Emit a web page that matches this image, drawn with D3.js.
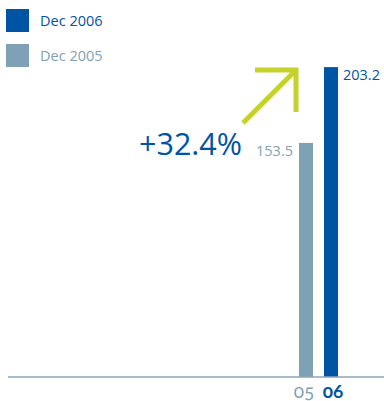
<!DOCTYPE html>
<html>
<head>
<meta charset="utf-8">
<script src="https://cdn.jsdelivr.net/npm/d3@7"></script>
<style>
  body { margin: 0; background: #fff; }
  svg text { font-family: "Open Sans", "Noto Sans", sans-serif; }
</style>
</head>
<body>
<div id="chart"></div>
<script>
var categories = ["05", "06"];
var values = [153.5, 203.2];
var seriesNames = ["Dec 2005", "Dec 2006"];
var changeLabel = "+32.4%";

var width = 384;
var height = 401;
var dark = "#0054a4";
var light = "#7fa1b6";
var green = "#c4d22a";
var colors = [light, dark];

var svg = d3.select("#chart")
  .append("svg")
  .attr("width", width)
  .attr("height", height);

var x = d3.scaleBand()
  .domain(categories)
  .range([299, 338])
  .paddingInner(0.44)
  .paddingOuter(0);

var y = d3.scaleLinear()
  .domain([0, 250])
  .range([377, -4.25]);

// legend (newest on top)
var legend = svg.append("g");
var legendItems = legend.selectAll("g")
  .data([1, 0])
  .enter()
  .append("g")
  .attr("transform", function(d, i) { return "translate(6," + (9 + i * 35) + ")"; });
legendItems.append("rect")
  .attr("width", 23)
  .attr("height", 23)
  .attr("fill", function(d) { return colors[d]; });
legendItems.append("text")
  .attr("x", 34)
  .attr("y", 17)
  .attr("font-size", 14.5)
  .attr("fill", function(d) { return colors[d]; })
  .text(function(d) { return seriesNames[d]; });

// bars
svg.selectAll(".bar")
  .data(values)
  .enter()
  .append("rect")
  .attr("class", "bar")
  .attr("x", function(d, i) { return x(categories[i]); })
  .attr("y", function(d) { return y(d); })
  .attr("width", x.bandwidth())
  .attr("height", function(d) { return y(0) - y(d); })
  .attr("fill", function(d, i) { return colors[i]; });

// value labels
svg.append("text")
  .attr("x", x(categories[0]) - 6)
  .attr("y", y(values[0]) + 13)
  .attr("text-anchor", "end")
  .attr("font-size", 14.5)
  .attr("fill", light)
  .text(values[0].toFixed(1));
svg.append("text")
  .attr("x", x(categories[1]) + x.bandwidth() + 5)
  .attr("y", y(values[1]) + 13)
  .attr("text-anchor", "start")
  .attr("font-size", 14.5)
  .attr("fill", dark)
  .text(values[1].toFixed(1));

// axis
var axis = svg.append("g")
  .attr("transform", "translate(0," + y(0) + ")")
  .call(d3.axisBottom(x).tickSize(0).tickPadding(8));
axis.select(".domain").remove();
axis.append("line")
  .attr("x1", 8).attr("x2", width)
  .attr("stroke", "#8aa5b8")
  .attr("stroke-width", 1.5);
axis.selectAll(".tick text")
  .attr("font-size", 19)
  .style("font-family", "Lato, 'Open Sans', sans-serif")
  .style("font-variant-numeric", "oldstyle-nums")
  .attr("font-weight", function(d, i) { return i === 1 ? "bold" : "normal"; })
  .attr("fill", function(d, i) { return colors[i]; })
  .attr("dx", function(d, i) { return i === 0 ? -2 : 2; });

// change arrow
var arrow = svg.append("g")
  .attr("fill", "none")
  .attr("stroke", green)
  .attr("stroke-width", 5);
arrow.append("line")
  .attr("x1", 243).attr("y1", 123)
  .attr("x2", 295).attr("y2", 71);
arrow.append("polyline")
  .attr("points", "255,70 296,70 296,112");

svg.append("text")
  .attr("x", 139)
  .attr("y", 155)
  .attr("font-size", 30.5)
  .attr("fill", dark)
  .text(changeLabel);
</script>
</body>
</html>
